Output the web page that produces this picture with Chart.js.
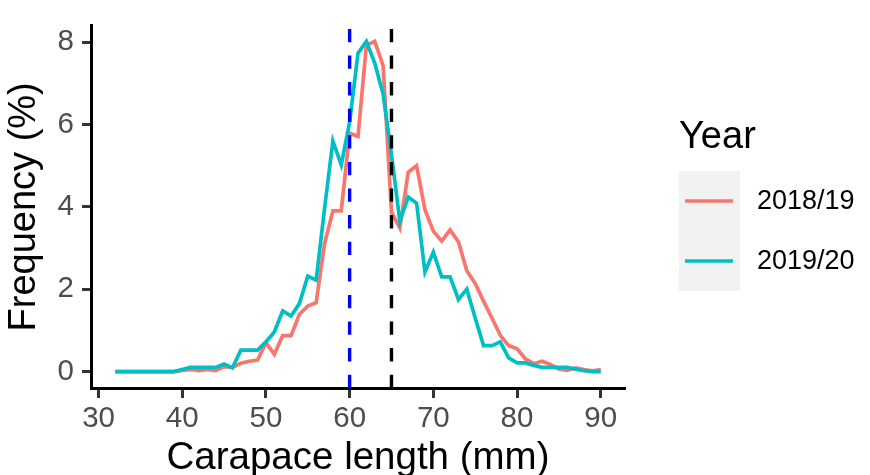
<!DOCTYPE html>
<html>
<head>
<meta charset="utf-8">
<script src="https://cdn.jsdelivr.net/npm/chart.js@4"></script>
<style>
  body { margin: 0; background: #fff; }
  #wrap { width: 870px; height: 475px; }
</style>
</head>
<body>
<div id="wrap"><canvas id="lengthChart" width="870" height="475"></canvas></div>
<script>
const lengths = [32, 33, 34, 35, 36, 37, 38, 39, 40, 41, 42, 43, 44, 45, 46, 47, 48, 49, 50,
  51, 52, 53, 54, 55, 56, 57, 58, 59, 60, 61, 62, 63, 64, 65, 66, 67, 68, 69, 70,
  71, 72, 73, 74, 75, 76, 77, 78, 79, 80, 81, 82, 83, 84, 85, 86, 87, 88, 89, 90];

const freq1819 = [0, 0, 0, 0, 0, 0, 0, 0, 0.03, 0.05, 0.02, 0.05, 0.02, 0.12, 0.1, 0.2, 0.25, 0.28, 0.7,
  0.42, 0.87, 0.87, 1.39, 1.59, 1.67, 3.1, 3.9, 3.9, 5.79, 5.71, 7.92, 8.02, 7.43, 3.87, 3.49, 4.84, 5.0, 3.93, 3.41,
  3.17, 3.44, 3.15, 2.45, 2.14, 1.71, 1.3, 0.88, 0.63, 0.55, 0.31, 0.19, 0.25, 0.17, 0.06, 0.03, 0.09, 0.05, 0.02, 0.05];

const freq1920 = [0, 0, 0, 0, 0, 0, 0, 0, 0.05, 0.1, 0.1, 0.1, 0.1, 0.18, 0.09, 0.52, 0.52, 0.52, 0.72,
  0.96, 1.47, 1.35, 1.65, 2.32, 2.22, 3.95, 5.6, 5.02, 6.06, 7.73, 8.02, 7.49, 6.74, 5.27, 3.65, 4.24, 4.09, 2.42, 2.9,
  2.3, 2.3, 1.75, 2.0, 1.3, 0.63, 0.63, 0.72, 0.33, 0.21, 0.21, 0.15, 0.1, 0.1, 0.1, 0.1, 0.06, 0.02, 0, 0];

const seasons = ["2018/19", "2019/20"];
const xTickValues = [30, 40, 50, 60, 70, 80, 90];
const yTickValues = [0, 2, 4, 6, 8];
const cutoffs = [60, 65];

const FONT = "'Liberation Sans', Arial, sans-serif";
const cutoffColors = ["#0000FF", "#000000"];

// dashed reference lines, drawn bottom-up like ggplot
const cutoffLines = {
  id: "cutoffLines",
  afterDatasetsDraw(chart) {
    const { ctx, chartArea, scales } = chart;
    ctx.save();
    ctx.lineWidth = 3.4;
    ctx.setLineDash([13.3, 13.3]);
    cutoffs.forEach((value, i) => {
      const x = scales.x.getPixelForValue(value);
      ctx.strokeStyle = cutoffColors[i];
      ctx.beginPath();
      ctx.moveTo(x, chartArea.bottom);
      ctx.lineTo(x, chartArea.top);
      ctx.stroke();
    });
    ctx.restore();
  },
};

// ggplot-like legend with grey key background
const yearLegend = {
  id: "yearLegend",
  afterDraw(chart) {
    const ctx = chart.ctx;
    ctx.save();
    ctx.fillStyle = "#000000";
    ctx.font = "38px " + FONT;
    ctx.textBaseline = "alphabetic";
    ctx.fillText("Year", 679, 148);

    ctx.fillStyle = "#F2F2F2";
    ctx.fillRect(679, 171, 61, 120);

    chart.data.datasets.forEach((ds, i) => {
      const y = 201 + i * 60;
      ctx.strokeStyle = ds.borderColor;
      ctx.lineWidth = 3.7;
      ctx.beginPath();
      ctx.moveTo(685, y);
      ctx.lineTo(733, y);
      ctx.stroke();

      ctx.fillStyle = "#000000";
      ctx.font = "27px " + FONT;
      ctx.textBaseline = "middle";
      ctx.fillText(ds.label, 757, y + 1);
    });
    ctx.restore();
  },
};

new Chart(document.getElementById("lengthChart"), {
  type: "line",
  plugins: [cutoffLines, yearLegend],
  data: {
    datasets: [
      {
        label: seasons[0],
        data: lengths.map((x, i) => ({ x: x, y: freq1819[i] })),
        borderColor: "#F8766D",
        borderWidth: 3.7,
        pointRadius: 0,
        tension: 0,
        order: 1,
      },
      {
        label: seasons[1],
        data: lengths.map((x, i) => ({ x: x, y: freq1920[i] })),
        borderColor: "#00BFC4",
        borderWidth: 3.7,
        pointRadius: 0,
        tension: 0,
        order: 0,
      },
    ],
  },
  options: {
    responsive: false,
    animation: false,
    layout: {
      padding: { top: 20, right: 245, left: 0, bottom: 0 },
    },
    plugins: {
      legend: { display: false },
      tooltip: { enabled: false },
    },
    scales: {
      x: {
        type: "linear",
        min: 29.1,
        max: 92.9,
        afterBuildTicks: (scale) => {
          scale.ticks = xTickValues.map((v) => ({ value: v }));
        },
        afterFit: (scale) => {
          scale.height = 87;
        },
        border: { display: true, color: "#000000", width: 3 },
        grid: {
          drawOnChartArea: false,
          drawTicks: true,
          tickLength: 10,
          tickWidth: 3,
          tickColor: "#333333",
        },
        ticks: {
          color: "#4D4D4D",
          padding: 3,
          font: { family: FONT, size: 29.5 },
        },
        title: {
          display: true,
          text: "Carapace length (mm)",
          color: "#000000",
          padding: 0,
          font: { family: FONT, size: 38.5, lineHeight: 0.88 },
        },
      },
      y: {
        min: -0.4,
        max: 8.4,
        afterBuildTicks: (scale) => {
          scale.ticks = yTickValues.map((v) => ({ value: v }));
        },
        afterFit: (scale) => {
          scale.width = 91;
        },
        border: { display: true, color: "#000000", width: 3 },
        grid: {
          drawOnChartArea: false,
          drawTicks: true,
          tickLength: 9,
          tickWidth: 3,
          tickColor: "#333333",
        },
        ticks: {
          color: "#4D4D4D",
          padding: 8,
          font: { family: FONT, size: 29.5 },
        },
        title: {
          display: true,
          text: "Frequency (%)",
          color: "#000000",
          padding: { top: 7, bottom: 0 },
          font: { family: FONT, size: 38, lineHeight: 0.9 },
        },
      },
    },
  },
});
</script>
</body>
</html>
